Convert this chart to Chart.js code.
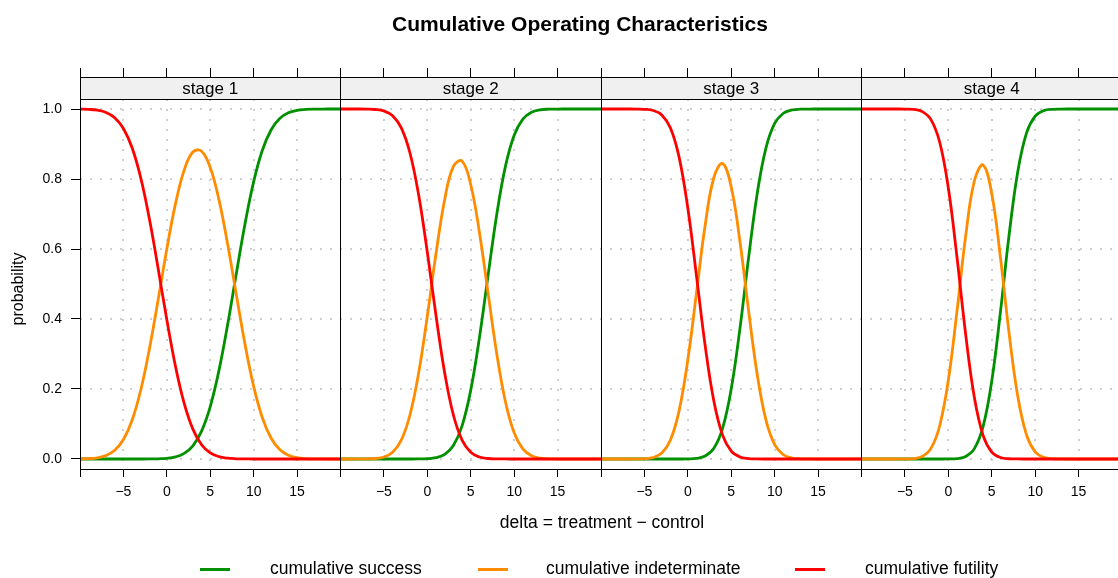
<!DOCTYPE html>
<html>
<head>
<meta charset="utf-8">
<script src="https://cdn.jsdelivr.net/npm/chart.js@4.4.1/dist/chart.umd.min.js"></script>
<style>
html,body{margin:0;padding:0;background:#fff;overflow:hidden;width:1118px;height:578px;}
#wrap{position:relative;width:1118px;height:578px;overflow:hidden;font-family:"Liberation Sans",Arial,Helvetica,sans-serif;color:#000;}
#c{position:absolute;left:0;top:0;}
.t{position:absolute;white-space:nowrap;line-height:1;}
.lg-line{position:absolute;height:3px;width:30px;}
</style>
</head>
<body>
<div id="wrap">
<canvas id="c" width="1160" height="578" style="width:1160px;height:578px"></canvas>
<div class="t" style="left:0;width:1160px;text-align:center;top:13px;font-size:21px;font-weight:bold">Cumulative Operating Characteristics</div>
<div class="t" style="left:352px;width:500px;text-align:center;top:514px;font-size:17.5px">delta = treatment − control</div>
<div class="t" style="left:-82px;width:200px;text-align:center;top:281px;font-size:16px;transform:rotate(-90deg);transform-origin:100px 8px">probability</div>
<div id="legend"></div>
</div>
<script>
// ---- data ----
const xValues = [-10,-9,-8,-7,-6,-5,-4,-3,-2,-1,0,1,2,3,4,5,6,7,8,9,10,11,12,13,14,15,16,17,18,19,20];
const stageLabels = ['stage 1','stage 2','stage 3','stage 4'];
const seriesNames = ['cumulative success','cumulative indeterminate','cumulative futility'];
const xTickValues = [-10,-5,0,5,10,15,20];
const xTickLabels = ['','\u22125','0','5','10','15',''];
const yTickValues = [0,0.2,0.4,0.6,0.8,1.0];
const yTickLabels = ['0.0','0.2','0.4','0.6','0.8','1.0'];

const success1 = [0,0,0,0,0,0,0,0,0.0001,0.0006,0.0019,0.0059,0.0159,0.0377,0.0797,0.1499,0.2524,0.3836,0.5295,0.6715,0.7925,0.8820,0.9401,0.9730,0.9892,0.9962,0.9988,0.9997,0.9999,1,1];
const indeterminate1 = [0.0003,0.0011,0.0034,0.0098,0.0248,0.0556,0.1109,0.1971,0.3151,0.4552,0.6003,0.7297,0.8254,0.8770,0.8795,0.8327,0.7410,0.6142,0.4699,0.3283,0.2075,0.1180,0.0599,0.0270,0.0108,0.0038,0.0012,0.0003,0.0001,0,0];
const futility1 = [0.9997,0.9989,0.9966,0.9902,0.9752,0.9444,0.8891,0.8029,0.6848,0.5442,0.3978,0.2644,0.1587,0.0853,0.0408,0.0174,0.0066,0.0022,0.0006,0.0002,0,0,0,0,0,0,0,0,0,0,0];

const success2 = [0,0,0,0,0,0,0,0,0,0.0002,0.0008,0.0036,0.0129,0.0383,0.0948,0.1968,0.3468,0.5255,0.6995,0.8369,0.9251,0.9712,0.9908,0.9976,0.9995,0.9999,1,1,1,1,1];
const indeterminate2 = [0,0,0.0001,0.0003,0.0014,0.0058,0.0195,0.0541,0.1257,0.2455,0.4086,0.5870,0.7414,0.8360,0.8511,0.7837,0.6474,0.4731,0.3002,0.1630,0.0749,0.0288,0.0092,0.0024,0.0005,0.0001,0,0,0,0,0];
const futility2 = [1,1,1,0.9997,0.9986,0.9942,0.9805,0.9459,0.8743,0.7543,0.5906,0.4094,0.2457,0.1257,0.0541,0.0195,0.0058,0.0014,0.0003,0.0001,0,0,0,0,0,0,0,0,0,0,0];

const success3 = [0,0,0,0,0,0,0,0,0,0,0.0003,0.0019,0.0085,0.0307,0.0876,0.2005,0.3726,0.5757,0.7599,0.8891,0.9588,0.9879,0.9972,0.9995,0.9999,1,1,1,1,1,1];
const indeterminate3 = [0,0,0,0,0.0001,0.0008,0.0042,0.0170,0.0545,0.1383,0.2834,0.4754,0.6684,0.8043,0.8443,0.7770,0.6215,0.4231,0.2399,0.1109,0.0412,0.0121,0.0028,0.0005,0.0001,0,0,0,0,0,0];
const futility3 = [1,1,1,1,0.9999,0.9992,0.9958,0.9830,0.9455,0.8617,0.7163,0.5227,0.3231,0.1650,0.0681,0.0225,0.0059,0.0012,0.0002,0,0,0,0,0,0,0,0,0,0,0,0];

const success4 = [0,0,0,0,0,0,0,0,0,0,0.0002,0.0013,0.0072,0.0295,0.0924,0.2224,0.4199,0.6406,0.8215,0.9310,0.9796,0.9954,0.9992,0.9999,1,1,1,1,1,1,1];
const indeterminate4 = [0,0,0,0,0,0.0002,0.0013,0.0074,0.0303,0.0943,0.2255,0.4230,0.6375,0.7951,0.8400,0.7577,0.5757,0.3587,0.1784,0.0690,0.0204,0.0046,0.0008,0.0001,0,0,0,0,0,0,0];
const futility4 = [1,1,1,1,1,0.9998,0.9987,0.9926,0.9697,0.9057,0.7743,0.5757,0.3553,0.1754,0.0676,0.0199,0.0044,0.0007,0.0001,0,0,0,0,0,0,0,0,0,0,0,0];

// ---- styling ----
const seriesColors = ['#009000','#FF8C00','#FF0000'];
const seriesOrder = [3,2,1];
const FONT = '"Liberation Sans", Arial, Helvetica, sans-serif';
Chart.defaults.font.family = FONT;
Chart.defaults.color = '#000';

const stages = [
  [success1, indeterminate1, futility1],
  [success2, indeterminate2, futility2],
  [success3, indeterminate3, futility3],
  [success4, indeterminate4, futility4]
];
const xIds = ['x1','x2','x3','x4'];

const datasets = [];
stages.forEach((series, s) => {
  series.forEach((arr, k) => {
    datasets.push({
      label: seriesNames[k] + ' (' + stageLabels[s] + ')',
      data: xValues.map((x, i) => ({x: x, y: arr[i]})),
      xAxisID: xIds[s],
      yAxisID: 'y',
      borderColor: seriesColors[k],
      backgroundColor: seriesColors[k],
      borderWidth: 2.8,
      pointRadius: 0,
      tension: 0.4,
      fill: false,
      order: seriesOrder[k]
    });
  });
});

const scales = {};
xIds.forEach(id => {
  scales[id] = {
    type: 'linear',
    position: 'bottom',
    stack: 'panels',
    stackWeight: 1,
    min: -10,
    max: 20,
    afterBuildTicks: sc => { sc.ticks = xTickValues.map(v => ({value: v})); },
    afterFit: sc => { sc.height = 30; },
    ticks: {
      autoSkip: false, maxRotation: 0, minRotation: 0, padding: 7,
      font: {size: 14}, color: '#000',
      callback: v => { const j = xTickValues.indexOf(v); return j >= 0 ? xTickLabels[j] : ''; }
    },
    grid: {drawOnChartArea: false, drawTicks: true, tickLength: 8, tickColor: '#000', tickWidth: 1, color: '#000'},
    border: {display: true, color: '#000', width: 1}
  };
});
scales.y = {
  type: 'linear',
  position: 'left',
  min: -0.0286,
  max: 1.0286,
  afterBuildTicks: sc => { sc.ticks = yTickValues.map(v => ({value: v})); },
  afterFit: sc => { sc.width = 80; },
  ticks: {
    padding: 9, font: {size: 14}, color: '#000',
    callback: v => { const j = yTickValues.findIndex(t => Math.abs(t - v) < 1e-9); return j >= 0 ? yTickLabels[j] : ''; }
  },
  grid: {drawOnChartArea: false, drawTicks: true, tickLength: 9, tickColor: '#000', tickWidth: 1, color: '#000'},
  border: {display: true, color: '#000', width: 1}
};

// same pixel alignment rule as Chart.js for 1px lines
const crisp = v => Math.round(v - 0.5) + 0.5;

const panelsPlugin = {
  id: 'panels',
  beforeDatasetsDraw(chart) {
    const {ctx, chartArea: ca} = chart;
    ctx.save();
    ctx.strokeStyle = '#cfcfcf';
    ctx.lineWidth = 2;
    ctx.setLineDash([2, 8]);
    ctx.beginPath();
    xIds.forEach(id => {
      const sc = chart.scales[id];
      xTickValues.forEach(v => {
        if (v <= sc.min || v >= sc.max) return;
        const px = Math.round(sc.getPixelForValue(v));
        ctx.moveTo(px, ca.top); ctx.lineTo(px, ca.bottom);
      });
    });
    yTickValues.forEach(v => {
      const py = Math.round(chart.scales.y.getPixelForValue(v));
      ctx.moveTo(ca.left, py); ctx.lineTo(ca.right, py);
    });
    ctx.stroke();
    ctx.restore();
  },
  afterDraw(chart) {
    const {ctx, chartArea: ca} = chart;
    const stripTop = ca.top - 22, tickTop = stripTop - 9, tickBottom = ca.bottom + 8;
    ctx.save();
    xIds.forEach((id, i) => {
      const sc = chart.scales[id];
      ctx.fillStyle = '#f0f0f0';
      ctx.fillRect(sc.left, stripTop, sc.right - sc.left, ca.top - stripTop);
      ctx.fillStyle = '#000';
      ctx.font = '17px ' + FONT;
      ctx.textAlign = 'center';
      ctx.textBaseline = 'alphabetic';
      ctx.fillText(stageLabels[i], (sc.left + sc.right) / 2, ca.top - 5);
    });
    ctx.strokeStyle = '#000';
    ctx.lineWidth = 1;
    ctx.beginPath();
    xIds.forEach(id => {
      const sc = chart.scales[id];
      xTickValues.forEach(v => {
        const px = crisp(sc.getPixelForValue(v));
        ctx.moveTo(px, tickTop); ctx.lineTo(px, stripTop);
      });
      [sc.left, sc.right].forEach(p => {
        const px = crisp(p);
        ctx.moveTo(px, stripTop); ctx.lineTo(px, tickBottom);
      });
    });
    [stripTop, ca.top, ca.bottom].forEach(p => {
      const py = crisp(p);
      ctx.moveTo(ca.left, py); ctx.lineTo(ca.right, py);
    });
    ctx.stroke();
    ctx.restore();
  }
};

new Chart(document.getElementById('c'), {
  type: 'line',
  data: {datasets: datasets},
  options: {
    responsive: false,
    animation: false,
    devicePixelRatio: 1,
    layout: {padding: {left: 0, top: 99, right: 38, bottom: 79}},
    plugins: {legend: {display: false}, tooltip: {enabled: false}, title: {display: false}},
    scales: scales
  },
  plugins: [panelsPlugin]
});

// ---- legend (HTML) ----
const legendPos = [{line: 200, text: 270}, {line: 478, text: 546}, {line: 795, text: 865}];
const lg = document.getElementById('legend');
seriesNames.forEach((name, k) => {
  const l = document.createElement('div');
  l.className = 'lg-line';
  l.style.left = legendPos[k].line + 'px';
  l.style.top = '567.5px';
  l.style.background = seriesColors[k];
  lg.appendChild(l);
  const t = document.createElement('div');
  t.className = 't';
  t.style.left = legendPos[k].text + 'px';
  t.style.top = '560px';
  t.style.fontSize = '17.5px';
  t.textContent = name;
  lg.appendChild(t);
});
</script>
</body>
</html>
